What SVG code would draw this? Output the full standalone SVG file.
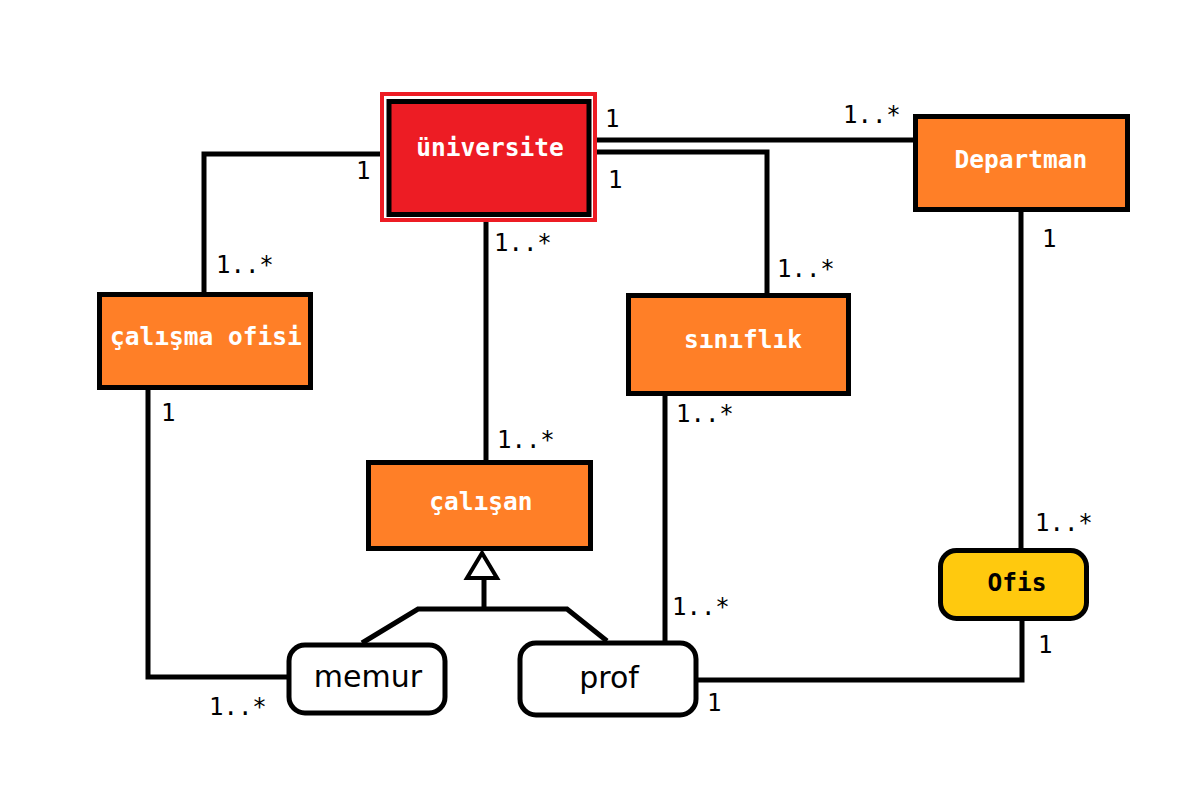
<svg xmlns="http://www.w3.org/2000/svg" width="1200" height="800" viewBox="0 0 1200 800">
  <style>
    .box { stroke: #000; stroke-width: 5; }
    .orange { fill: #FF7F27; }
    .red { fill: #ED1C24; }
    .yellow { fill: #FFC90E; }
    .white { fill: #fff; }
    .title { font-family: "DejaVu Sans Mono", "Liberation Mono", monospace; font-weight: bold; font-size: 24.5px; fill: #fff; text-anchor: middle; }
    .dark { fill: #000; }
    .plain { font-family: "DejaVu Sans", "Liberation Sans", sans-serif; font-size: 30px; fill: #000; text-anchor: middle; }
    .mult { font-family: "DejaVu Sans Mono", "Liberation Mono", monospace; font-size: 24px; fill: #000; }
    .wire { fill: none; stroke: #000; stroke-width: 5; }
  </style>
  <rect width="1200" height="800" fill="#fff"/>

  <g id="connectors">
    <!-- üniversite associations -->
    <path class="wire" d="M597 140 H915"/>
    <path class="wire" d="M597 152 H767 V295"/>
    <path class="wire" d="M380 154 H204 V294"/>
    <path class="wire" d="M486 222 V462"/>
    <!-- Departman – Ofis -->
    <path class="wire" d="M1021 212 V550"/>
    <!-- Ofis – prof -->
    <path class="wire" d="M1022 619 V680 H698"/>
    <!-- sınıflık – prof -->
    <path class="wire" d="M665 394 V642"/>
    <!-- çalışma ofisi – memur -->
    <path class="wire" d="M148 388 V677 H289"/>
    <!-- generalisation -->
    <path class="wire" d="M362 643 L418 609 H567 L607 641"/>
    <path class="wire" d="M484 609 V578"/>
    <polygon points="482,553 467,578 497,578" fill="#fff" stroke="#000" stroke-width="4" stroke-linejoin="miter"/>

    <!-- multiplicities -->
    <text class="mult" x="605" y="127">1</text>
    <text class="mult" x="843" y="123">1..*</text>
    <text class="mult" x="608" y="188">1</text>
    <text class="mult" x="356" y="179">1</text>
    <text class="mult" x="216" y="273">1..*</text>
    <text class="mult" x="494" y="251">1..*</text>
    <text class="mult" x="777" y="277">1..*</text>
    <text class="mult" x="161" y="421">1</text>
    <text class="mult" x="497" y="448">1..*</text>
    <text class="mult" x="676" y="422">1..*</text>
    <text class="mult" x="1042" y="247">1</text>
    <text class="mult" x="1035" y="531">1..*</text>
    <text class="mult" x="1038" y="653">1</text>
    <text class="mult" x="672" y="615">1..*</text>
    <text class="mult" x="707" y="711">1</text>
    <text class="mult" x="209" y="715">1..*</text>
  </g>

  <g id="universite">
    <rect x="382" y="94" width="213" height="126" fill="none" stroke="#ED1C24" stroke-width="4"/>
    <rect class="box red" x="389" y="101.5" width="200" height="113"/>
    <text class="title" x="490" y="156">üniversite</text>
  </g>

  <g id="departman">
    <rect class="box orange" x="915.5" y="116.5" width="212" height="93"/>
    <text class="title" x="1021" y="168">Departman</text>
  </g>

  <g id="calisma-ofisi">
    <rect class="box orange" x="99.5" y="294.5" width="211" height="93"/>
    <text class="title" x="206" y="345">çalışma ofisi</text>
  </g>

  <g id="siniflik">
    <rect class="box orange" x="628.5" y="295.5" width="220" height="98"/>
    <text class="title" x="743" y="348">sınıflık</text>
  </g>

  <g id="calisan">
    <rect class="box orange" x="368.5" y="462.5" width="222" height="86"/>
    <text class="title" x="481" y="510">çalışan</text>
  </g>

  <g id="memur">
    <rect class="box white" x="289" y="645" width="156" height="68" rx="16"/>
    <text class="plain" x="368" y="687">memur</text>
  </g>

  <g id="prof">
    <rect class="box white" x="520" y="643" width="176" height="72" rx="16"/>
    <text class="plain" x="609" y="688">prof</text>
  </g>

  <g id="ofis">
    <rect class="box yellow" x="940.5" y="550.5" width="146" height="68" rx="16"/>
    <text class="title dark" x="1017" y="591">Ofis</text>
  </g>
</svg>
